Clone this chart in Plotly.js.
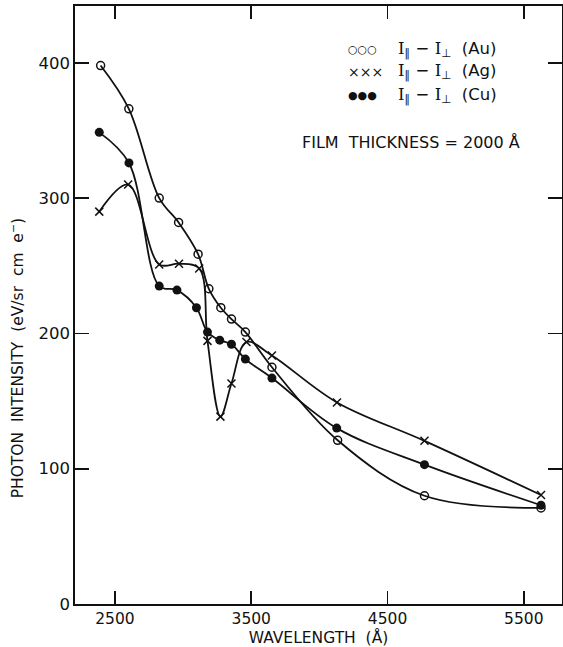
<!DOCTYPE html>
<html>
<head>
<meta charset="utf-8">
<script src="https://cdn.plot.ly/plotly-3.0.1.min.js"></script>
<style>
html,body{margin:0;padding:0;background:#fff;}
#chart{width:563px;height:647px;}
</style>
</head>
<body>
<div id="chart"></div>
<script>
// Wavelength (Å) and photon intensity (eV/sr cm e-)
const auWavelength = [2395, 2602, 2825, 2967, 3110, 3189, 3277, 3355, 3457, 3652, 4134, 4771, 5626];
const auIntensity  = [398, 366, 300, 282, 258.6, 233, 219, 210.6, 201, 175, 121, 80, 71];

const agWavelength = [2385, 2597, 2825, 2970, 3118, 3179, 3274, 3355, 3465, 3652, 4129, 4771, 5626];
const agIntensity  = [290, 310, 251, 251.5, 248, 194.5, 138.5, 163, 193.6, 183.7, 149, 120.6, 80.6];

const cuWavelength = [2385, 2603, 2825, 2955, 3098, 3179, 3269, 3355, 3457, 3652, 4127, 4771, 5626];
const cuIntensity  = [348.6, 326, 235, 232, 219, 201, 195, 192, 181, 167, 130, 103, 73];

const xTickValues = [2500, 3500, 4500, 5500];
const yTickValues = [0, 100, 200, 300, 400];

const FONT = 'DejaVu Sans, Liberation Sans, sans-serif';
const lineStyle = {color: '#111', width: 1.8, shape: 'spline', smoothing: 1.0};

const traces = [
  {
    x: auWavelength, y: auIntensity, mode: 'lines+markers', name: 'Au',
    line: lineStyle,
    marker: {symbol: 'circle-open', size: 8, color: '#111', line: {width: 1.5, color: '#111'}}
  },
  {
    x: agWavelength, y: agIntensity, mode: 'lines+markers', name: 'Ag',
    line: lineStyle,
    marker: {symbol: 'x-thin-open', size: 8, color: '#111', line: {width: 1.5, color: '#111'}}
  },
  {
    x: cuWavelength, y: cuIntensity, mode: 'lines+markers', name: 'Cu',
    line: lineStyle,
    marker: {symbol: 'circle', size: 9, color: '#111', line: {width: 0}}
  }
];

const serifI = '<span style="font-family:DejaVu Serif, Liberation Serif, serif">I</span>';
const diffText = serifI + '<sub>∥</sub> − ' + serifI + '<sub>⊥</sub>';

const legendRows = [
  {sym: '○○○', label: diffText + '  (Au)', y: 0.928, size: 11},
  {sym: '×××', label: diffText + '  (Ag)', y: 0.890, size: 14},
  {sym: '●●●', label: diffText + '  (Cu)', y: 0.851, size: 11}
];

const annotations = [];
legendRows.forEach(r => {
  annotations.push({xref: 'paper', yref: 'paper', x: 0.556, y: r.y, xanchor: 'left', yanchor: 'middle',
    text: r.sym, showarrow: false, font: {family: FONT, size: r.size, color: '#111'}});
  annotations.push({xref: 'paper', yref: 'paper', x: 0.66, y: r.y, xanchor: 'left', yanchor: 'middle',
    text: r.label, showarrow: false, font: {family: FONT, size: 16.5, color: '#111'}});
});
annotations.push({xref: 'paper', yref: 'paper', x: 0.462, y: 0.771, xanchor: 'left', yanchor: 'middle',
  text: 'FILM  THICKNESS = 2000 Å', showarrow: false, font: {family: FONT, size: 16, color: '#111'}});
annotations.push({xref: 'paper', yref: 'paper', x: -0.118, y: 0.41, xanchor: 'center', yanchor: 'middle',
  textangle: -90, text: 'PHOTON  INTENSITY  (eV/sr  cm  e<sup>−</sup>)', showarrow: false,
  font: {family: FONT, size: 15.5, color: '#111'}});

const layout = {
  width: 563, height: 647,
  margin: {l: 75, r: 1, t: 6, b: 43, pad: 0},
  paper_bgcolor: '#fff', plot_bgcolor: '#fff',
  showlegend: false,
  font: {family: FONT, color: '#111'},
  xaxis: {
    range: [2207, 5780], tickvals: xTickValues, ticktext: xTickValues.map(String),
    ticks: 'inside', ticklen: 13, tickwidth: 1.6, tickcolor: '#111',
    showline: true, linewidth: 1.6, linecolor: '#111', mirror: 'ticks',
    showgrid: false, zeroline: false,
    tickfont: {family: FONT, size: 15.5, color: '#111'},
    title: {text: 'WAVELENGTH  (Å)', font: {family: FONT, size: 15.5, color: '#111'}, standoff: 4}
  },
  yaxis: {
    range: [0, 442], tickvals: yTickValues, ticktext: yTickValues.map(String),
    ticks: 'inside', ticklen: 14, tickwidth: 1.6, tickcolor: '#111',
    showline: true, linewidth: 1.6, linecolor: '#111', mirror: 'ticks',
    showgrid: false, zeroline: false,
    tickfont: {family: FONT, size: 16.5, color: '#111'}
  },
  annotations: annotations
};

Plotly.newPlot('chart', traces, layout, {staticPlot: true, displayModeBar: false});
</script>
</body>
</html>
